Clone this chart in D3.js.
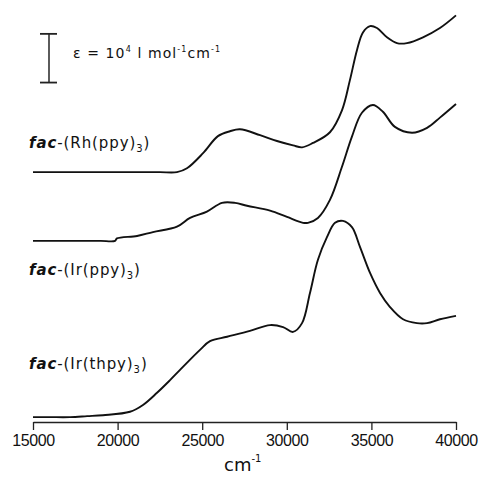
<!DOCTYPE html>
<html>
<head>
<meta charset="utf-8">
<script src="https://cdn.jsdelivr.net/npm/d3@7"></script>
<style>
  body { margin: 0; background: #fff; }
  text { fill: #111; }
</style>
</head>
<body>
<div id="chart"></div>
<script>
// absorption spectra, epsilon in units of 10^4 l mol-1 cm-1, stacked with offsets

var w = 481, h = 477;

// wavenumber ticks
var xTicks = [15000, 20000, 25000, 30000, 35000, 40000];

// fac-Rh(ppy)3
var rhWn  = [15000, 17000, 19000, 21000, 22500, 23510, 24100, 25050, 25930, 26640, 27230, 28420, 29420, 30370, 30900, 31550,
             32550, 33260, 33730, 34150, 34500, 34920, 35330, 35920, 36510, 37100, 38050, 39050, 40000];
var rhEps = [0, 0, 0, 0, 0, 0, 0.08, 0.39, 0.74, 0.84, 0.88, 0.76, 0.64, 0.55, 0.51, 0.60,
             0.82, 1.27, 1.89, 2.51, 2.87, 3.00, 2.96, 2.77, 2.65, 2.65, 2.77, 2.96, 3.22];

// fac-Ir(ppy)3
var irWn  = [15000, 16500, 18000, 19000, 19850, 19960, 21150, 22090, 23510, 24280, 25280, 26170, 26940, 27650, 29010,
             30010, 30960, 31250, 31840, 32550, 33260, 33850, 34440, 35090, 35680, 36390, 37400,
             38290, 39050, 40000];
var irEps = [0, 0, 0, 0, 0, 0.05, 0.10, 0.18, 0.29, 0.47, 0.60, 0.78, 0.78, 0.72, 0.62,
             0.49, 0.37, 0.37, 0.47, 0.84, 1.52, 2.14, 2.63, 2.79, 2.65, 2.34, 2.22,
             2.32, 2.53, 2.81];

// fac-Ir(thpy)3
var thWn  = [15000, 16000, 17190, 18200, 19140, 20730, 21500, 22330, 23100, 23690, 24870, 25460, 26470, 27820,
             29010, 29780, 30370, 30900, 31370, 31840, 32380, 32850, 33320, 33850, 34330, 34920,
             35510, 36100, 36870, 37690, 38290, 39050, 40000];
var thEps = [0.10, 0.10, 0.10, 0.12, 0.14, 0.21, 0.35, 0.60, 0.86, 1.07, 1.48, 1.66, 1.75, 1.87,
             1.99, 1.95, 1.85, 2.03, 2.65, 3.33, 3.80, 4.09, 4.13, 4.00, 3.59, 3.06,
             2.65, 2.36, 2.11, 2.03, 2.03, 2.11, 2.18];

var offsets = [5.13, 3.72, 0];
var names = ["(Rh(ppy)", "(Ir(ppy)", "(Ir(thpy)"];
var labelAt = [5.63, 3.02, 1.08]; // label baseline, same units as y
var scaleBar = [6.97, 7.97];

var series = [
  {wn: rhWn, eps: rhEps},
  {wn: irWn, eps: irEps},
  {wn: thWn, eps: thEps}
];

var svg = d3.select("#chart").append("svg")
  .attr("width", w)
  .attr("height", h);

var x = d3.scaleLinear().domain([15000, 40000]).range([33, 456]);
var y = d3.scaleLinear().domain([0, 8]).range([422, 422 - 8 * 48.7]);

// axis
var xAxis = d3.axisBottom(x)
  .tickValues(xTicks)
  .tickFormat(d3.format("d"))
  .tickSize(8)
  .tickSizeOuter(0)
  .tickPadding(5);

var gx = svg.append("g")
  .attr("transform", "translate(0," + y(0) + ")")
  .call(xAxis);
gx.select(".domain").attr("stroke", "#222").attr("stroke-width", 1.6);
gx.selectAll(".tick line").attr("stroke", "#222").attr("stroke-width", 1.3);
gx.selectAll(".tick text")
  .attr("fill", "#111")
  .style("font-family", "Liberation Sans, Arial, sans-serif")
  .style("font-size", "16px")
  .style("letter-spacing", "-0.4px");

// x title
var xt = svg.append("text")
  .attr("x", 224)
  .attr("y", 471)
  .style("font-family", "DejaVu Sans, sans-serif")
  .style("font-size", "18px");
xt.append("tspan").text("cm");
xt.append("tspan").attr("dy", -9).style("font-size", "10px").text("-1");

// curves
var line = d3.line()
  .x(d => x(d[0]))
  .y(d => y(d[1]))
  .curve(d3.curveCatmullRom.alpha(0.5));

series.forEach((s, i) => {
  var pts = s.wn.map((v, j) => [v, s.eps[j] + offsets[i]]);
  svg.append("path")
    .attr("d", line(pts))
    .attr("fill", "none")
    .attr("stroke", "#111")
    .attr("stroke-width", 1.9)
    .attr("stroke-linejoin", "round");
});

// series labels
names.forEach((n, i) => {
  var t = svg.append("text")
    .attr("x", 29)
    .attr("y", y(labelAt[i]))
    .style("font-family", "DejaVu Sans, sans-serif")
    .style("font-size", "15px")
    .style("letter-spacing", "0.9px");
  t.append("tspan").style("font-style", "italic").style("font-weight", "bold").text("fac");
  t.append("tspan").text("-" + n);
  t.append("tspan").attr("dy", 4).style("font-size", "10px").text("3");
  t.append("tspan").attr("dy", -4).text(")");
});

// scale bar
var bx = 49;
svg.append("line")
  .attr("x1", bx).attr("x2", bx)
  .attr("y1", y(scaleBar[0])).attr("y2", y(scaleBar[1]))
  .attr("stroke", "#333").attr("stroke-width", 1.6);
scaleBar.forEach(v => {
  svg.append("line")
    .attr("x1", bx - 9).attr("x2", bx + 8)
    .attr("y1", y(v)).attr("y2", y(v))
    .attr("stroke", "#222").attr("stroke-width", 1.8);
});

var st = svg.append("text")
  .attr("x", 73)
  .attr("y", 58)
  .style("font-family", "DejaVu Sans, sans-serif")
  .style("font-size", "14px")
  .style("letter-spacing", "1.1px");
st.append("tspan").text("\u03b5 = 10");
st.append("tspan").attr("dy", -6).style("font-size", "8px").text("4");
st.append("tspan").attr("dy", 6).text(" l mol");
st.append("tspan").attr("dy", -6).style("font-size", "8px").text("-1");
st.append("tspan").attr("dy", 6).text("cm");
st.append("tspan").attr("dy", -6).style("font-size", "8px").text("-1");
</script>
</body>
</html>
